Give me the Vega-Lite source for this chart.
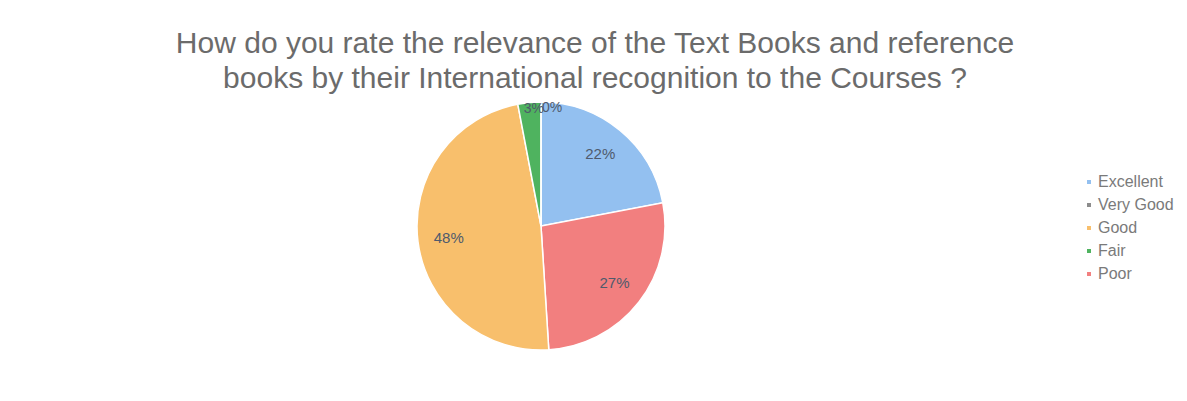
{
  "$schema": "https://vega.github.io/schema/vega-lite/v6.json",
  "width": 250,
  "height": 250,
  "autosize": "none",
  "padding": {"left": 416, "top": 101, "right": 521, "bottom": 50},
  "background": "white",
  "config": {"view": {"stroke": null}, "font": "Liberation Sans"},
  "title": {
    "text": ["How do you rate the relevance of the Text Books and reference", "books by their International recognition to the Courses ?"],
    "anchor": "middle",
    "dx": 54,
    "fontSize": 30,
    "fontWeight": "normal",
    "color": "#6b6b6b",
    "lineHeight": 35,
    "offset": 5
  },
  "data": {
    "values": [
      {"rating": "Excellent", "value": 22, "label": "22%", "rank": 1},
      {"rating": "Poor", "value": 27, "label": "27%", "rank": 2},
      {"rating": "Good", "value": 48, "label": "48%", "rank": 3},
      {"rating": "Fair", "value": 3, "label": "3%", "rank": 4},
      {"rating": "Very Good", "value": 0, "label": "0%", "rank": 5}
    ]
  },
  "encoding": {
    "theta": {"field": "value", "type": "quantitative", "stack": true},
    "order": {"field": "rank", "type": "quantitative"},
    "color": {
      "field": "rating",
      "type": "nominal",
      "scale": {
        "domain": ["Excellent", "Very Good", "Good", "Fair", "Poor"],
        "range": ["#93c0f0", "#8c8c8c", "#f8bf6c", "#4fb35f", "#f27f7f"]
      },
      "legend": {
        "title": null,
        "orient": "none",
        "legendX": 665,
        "legendY": 73,
        "symbolType": "square",
        "symbolSize": 30,
        "labelFontSize": 16,
        "labelColor": "#7a7a7a",
        "rowPadding": 7,
        "labelOffset": 1
      }
    }
  },
  "layer": [
    {"mark": {"type": "arc", "outerRadius": 124, "stroke": "white", "strokeWidth": 1.5}},
    {
      "mark": {"type": "text", "radius": 93, "fontSize": 15},
      "encoding": {
        "text": {"condition": {"test": "datum.value >= 10", "field": "label"}, "value": ""},
        "color": {"value": "#4f5a6c"}
      }
    },
    {
      "mark": {"type": "text", "radius": 118, "dx": 4, "fontSize": 14},
      "encoding": {
        "text": {"condition": {"test": "datum.rating == 'Fair'", "field": "label"}, "value": ""},
        "color": {"value": "#4f5a6c"}
      }
    },
    {
      "mark": {"type": "text", "radius": 118, "dx": 11, "fontSize": 14},
      "encoding": {
        "text": {"condition": {"test": "datum.rating == 'Very Good'", "field": "label"}, "value": ""},
        "color": {"value": "#4f5a6c"}
      }
    }
  ]
}
